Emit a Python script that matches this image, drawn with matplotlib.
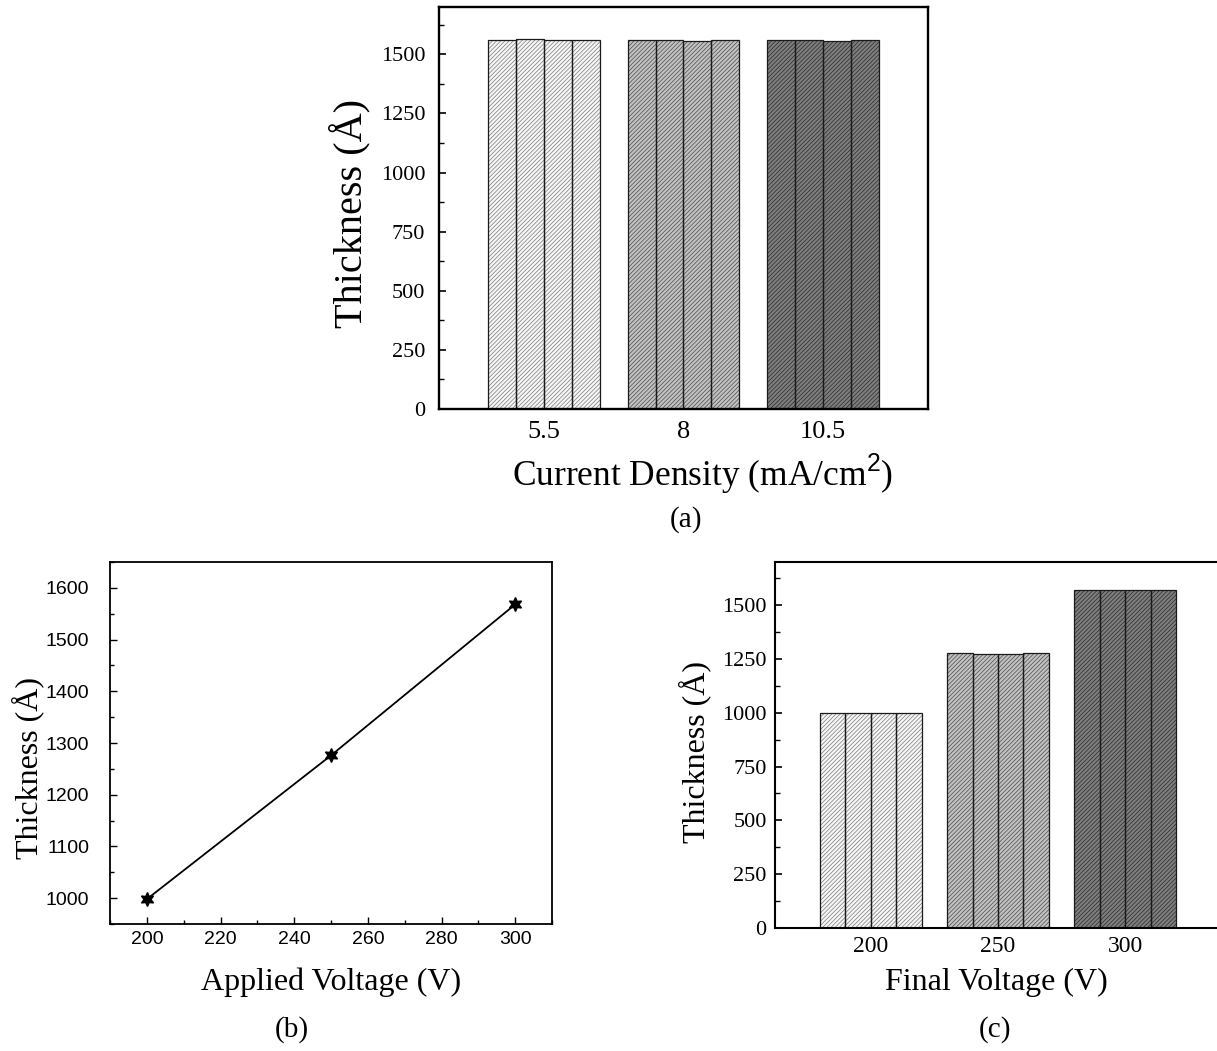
import matplotlib
matplotlib.use("Agg")
import matplotlib.pyplot as plt
from matplotlib.ticker import MultipleLocator

W, H = 1217, 1051

# (a) thickness vs current density, four samples per density
density_labels = ["5.5", "8", "10.5"]
thick_a = [
    [1559, 1565, 1559, 1562],
    [1559, 1559, 1558, 1559],
    [1559, 1559, 1555, 1559],
]

# (b) thickness vs applied voltage
applied_v = [200, 250, 300]
thick_b = [998, 1276, 1568]

# (c) thickness vs final voltage, four samples per voltage
final_labels = ["200", "250", "300"]
thick_c = [
    [999, 999, 999, 999],
    [1278, 1273, 1273, 1278],
    [1568, 1568, 1568, 1568],
]

group_colors = ["#f6f6f6", "#c2c2c2", "#7e7e7e"]
hatch_colors = ["#7a7a7a", "#4a4a4a", "#2a2a2a"]

SERIF = "Liberation Serif"
SANS = "Liberation Sans"

plt.rcParams["font.family"] = SERIF
plt.rcParams["mathtext.fontset"] = "custom"
plt.rcParams["mathtext.rm"] = SANS
plt.rcParams["hatch.linewidth"] = 0.5

fig = plt.figure(figsize=(W / 100, H / 100), dpi=100)


def px_axes(left, top, right, bottom):
    return fig.add_axes([left / W, 1 - bottom / H, (right - left) / W, (bottom - top) / H])


def px_text(x, y, s, **kw):
    kw.setdefault("ha", "center")
    kw.setdefault("va", "center")
    fig.text(x / W, 1 - y / H, s, **kw)


def grouped_bars(ax, values, labels, xsize, ysize):
    bw = 0.2
    for i, group in enumerate(values):
        xs = [i + 1 + (j - 1.5) * bw for j in range(len(group))]
        # hatched fill, then a dark outline on top
        ax.bar(xs, group, width=bw, color=group_colors[i],
               edgecolor=hatch_colors[i], linewidth=0, hatch="////////")
        ax.bar(xs, group, width=bw, fill=False, edgecolor="#1a1a1a", linewidth=0.9)
    ax.set_xlim(0.25, 3.75)
    ax.set_ylim(0, 1700)
    ax.set_xticks([1, 2, 3])
    ax.set_xticklabels(labels)
    ax.yaxis.set_major_locator(MultipleLocator(250))
    ax.yaxis.set_minor_locator(MultipleLocator(125))
    ax.tick_params(axis="x", length=0, labelsize=xsize)
    ax.tick_params(axis="y", which="major", direction="in", length=5, width=1.2, labelsize=ysize)
    ax.tick_params(axis="y", which="minor", direction="in", length=3.5, width=1.0)


# ---- (a)
ax_a = px_axes(439, 7, 928, 409)
grouped_bars(ax_a, thick_a, density_labels, 19, 16)
ax_a.tick_params(axis="y", which="major", pad=10)
ax_a.tick_params(axis="x", pad=9)
for sp in ax_a.spines.values():
    sp.set_linewidth(1.7)
px_text(350, 213, "Thickness (Å)", rotation=90, fontsize=29)
px_text(703, 486, r"Current Density (mA/cm$^{2}$)", fontsize=25.5, va="baseline")
px_text(686, 520, "(a)", fontsize=21)

# ---- (b)
ax_b = px_axes(110, 562, 552, 924)
ax_b.plot(applied_v, thick_b, color="black", linewidth=1.3,
          marker=(6, 1, 0), markersize=10)
ax_b.set_xlim(190, 310)
ax_b.set_ylim(950, 1650)
ax_b.xaxis.set_major_locator(MultipleLocator(20))
ax_b.xaxis.set_minor_locator(MultipleLocator(10))
ax_b.yaxis.set_major_locator(MultipleLocator(100))
ax_b.yaxis.set_minor_locator(MultipleLocator(50))
ax_b.tick_params(which="major", direction="in", length=5, width=1.0, labelsize=14)
ax_b.tick_params(which="minor", direction="in", length=3, width=1.0)
ax_b.tick_params(axis="y", pad=15)
ax_b.tick_params(axis="x", pad=5)
for lab in ax_b.get_xticklabels() + ax_b.get_yticklabels():
    lab.set_fontfamily(SANS)
for sp in ax_b.spines.values():
    sp.set_linewidth(1.3)
px_text(28, 768, "Thickness (Å)", rotation=90, fontsize=23)
px_text(331, 990, "Applied Voltage (V)", fontsize=23, va="baseline")
px_text(292, 1030, "(b)", fontsize=21)

# ---- (c)
ax_c = px_axes(775, 562, 1221, 928)
grouped_bars(ax_c, thick_c, final_labels, 17, 16)
ax_c.tick_params(axis="y", which="major", pad=6)
ax_c.tick_params(axis="x", pad=6)
for sp in ax_c.spines.values():
    sp.set_linewidth(1.5)
px_text(695, 752, "Thickness (Å)", rotation=90, fontsize=23)
px_text(996, 990, "Final Voltage (V)", fontsize=23, va="baseline")
px_text(995, 1030, "(c)", fontsize=21)

fig.savefig("out.png", dpi=100)
